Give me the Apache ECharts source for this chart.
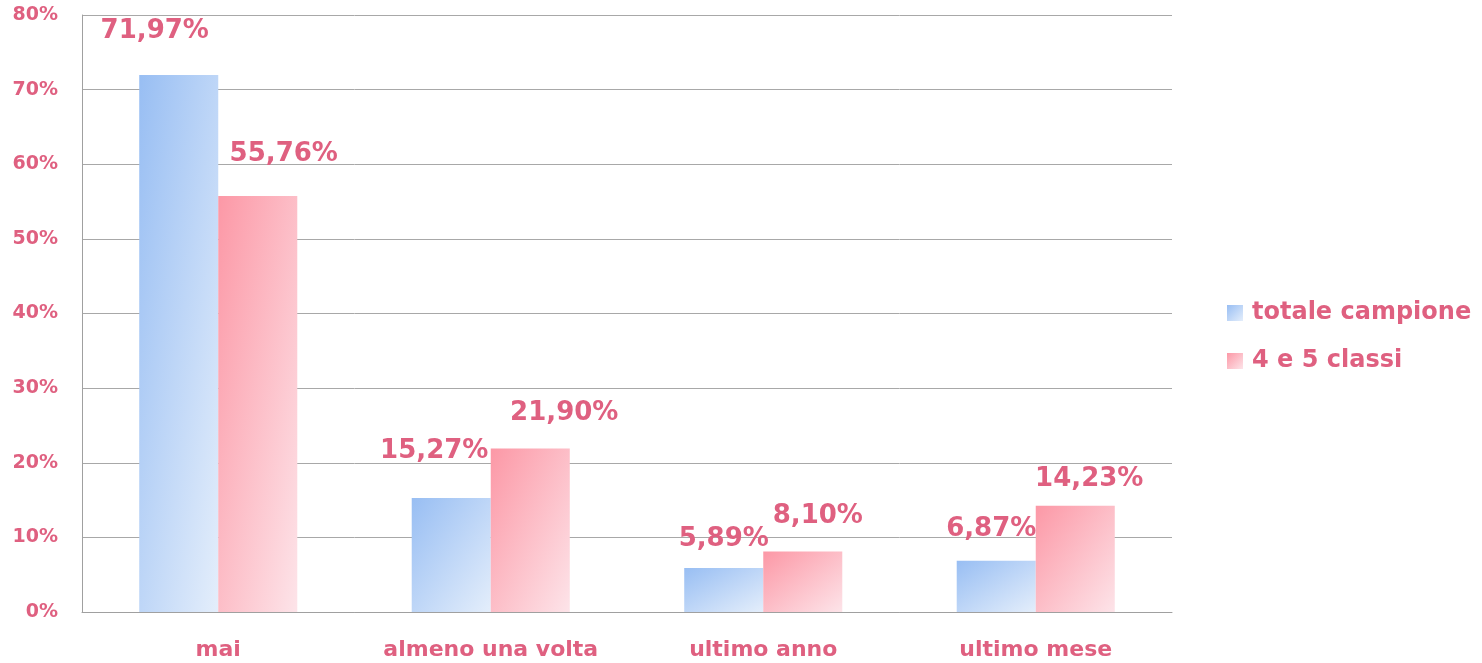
<!DOCTYPE html>
<html>
<head>
<meta charset="utf-8">
<script src="https://cdn.jsdelivr.net/npm/echarts@6/dist/echarts.min.js"></script>
<style>html,body{margin:0;padding:0;background:#fff}#c{width:1482px;height:663px}</style>
</head>
<body>
<div id="c"></div>
<script>
const categories = ['mai', 'almeno una volta', 'ultimo anno', 'ultimo mese'];
const seriesNames = ['totale campione', '4 e 5 classi'];
const totaleCampione = [71.97, 15.27, 5.89, 6.87];
const classi45 = [55.76, 21.90, 8.10, 14.23];
const yTicks = [0, 10, 20, 30, 40, 50, 60, 70, 80];

// label layout tweaks (pixels), not data
const offsetsA = [[-24, -27], [-17, -30], [0, -12], [-5, -14]];
const offsetsB = [[26, -25], [34, -18], [15, -18], [14, -10]];

const textColor = '#df6080';
const font = 'DejaVu Sans';
const plotH = 597, barW = 79;
const blue = ['#98bef3', '#e4eefb'], pink = ['#fc98a6', '#fde4e9'];

// shape-scaled diagonal gradient (isolines parallel to the box anti-diagonal)
function grad(h, w, c) {
  h = Math.max(1, h);
  const k = 2 / (1 / (w * w) + 1 / (h * h));
  const x2 = k / (w * w), y2 = k / (h * h);
  return new echarts.graphic.LinearGradient(0, 0, x2, y2, [
    {offset: 0, color: c[0]}, {offset: 1, color: c[1]}
  ]);
}
function fmt(v) { return v.toFixed(2).replace('.', ',') + '%'; }

function mk(vals, offs, c) {
  return vals.map((v, i) => ({value: v, label: {offset: offs[i]},
    itemStyle: {color: grad(v / 80 * plotH, barW, c)}}));
}

const chart = echarts.init(document.getElementById('c'), null, {renderer: 'canvas'});
chart.setOption({
  animation: false,
  grid: {left: 82, right: 310, top: 15, bottom: 51},
  legend: {
    orient: 'vertical', left: 1222, top: 296, itemGap: 24,
    itemWidth: 16, itemHeight: 16, icon: 'rect',
    textStyle: {color: textColor, fontFamily: font, fontWeight: 'bold', fontSize: 24, padding: [0, 0, 0, 4]},
    data: [
      {name: seriesNames[0], itemStyle: {color: grad(16, 16, blue)}},
      {name: seriesNames[1], itemStyle: {color: grad(16, 16, pink)}}
    ]
  },
  xAxis: {
    type: 'category', data: categories,
    axisLine: {lineStyle: {color: '#a0a0a0', width: 1}},
    axisTick: {show: false},
    axisLabel: {interval: 0, color: textColor, fontFamily: font, fontWeight: 'bold', fontSize: 22, margin: 27}
  },
  yAxis: {
    type: 'value', min: yTicks[0], max: yTicks[yTicks.length - 1], interval: 10,
    axisLine: {show: true, lineStyle: {color: '#a0a0a0', width: 1}},
    axisTick: {show: false},
    splitLine: {lineStyle: {color: '#a8a8a8', width: 1}},
    axisLabel: {color: textColor, fontFamily: font, fontWeight: 'bold', fontSize: 19, margin: 24,
      padding: [5, 0, 0, 0], formatter: v => v + '%'}
  },
  series: [
    {
      name: seriesNames[0], type: 'bar', data: mk(totaleCampione, offsetsA, blue),
      barGap: '0%', barCategoryGap: '42%',
      itemStyle: {color: '#b4d0f6'},
      label: {show: true, position: 'top', distance: 4, color: textColor, fontFamily: font,
        fontWeight: 'bold', fontSize: 26, formatter: p => fmt(p.value)}
    },
    {
      name: seriesNames[1], type: 'bar', data: mk(classi45, offsetsB, pink),
      itemStyle: {color: '#fcb8c2'},
      label: {show: true, position: 'top', distance: 4, color: textColor, fontFamily: font,
        fontWeight: 'bold', fontSize: 26, formatter: p => fmt(p.value)}
    }
  ]
});
</script>
</body>
</html>
